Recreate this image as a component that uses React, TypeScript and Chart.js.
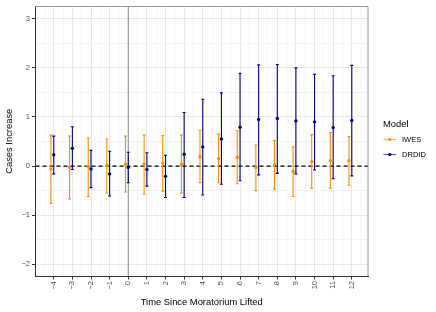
import React, { useEffect, useRef } from "react";
import { Chart, registerables } from "chart.js";

Chart.register(...registerables);

// ---- data ----
const times = [-4, -3, -2, -1, 0, 1, 2, 3, 4, 5, 6, 7, 8, 9, 10, 11, 12];

const iwesEst = [-0.06, -0.03, -0.01, 0.01, 0.04, 0.04, 0.06, 0.04, 0.19, 0.15, 0.18, -0.03, 0.02, -0.11, 0.09, 0.11, 0.11];
const iwesLow = [-0.76, -0.67, -0.62, -0.55, -0.53, -0.57, -0.51, -0.55, -0.34, -0.34, -0.36, -0.5, -0.47, -0.62, -0.45, -0.45, -0.39];
const iwesHigh = [0.63, 0.61, 0.57, 0.55, 0.61, 0.63, 0.62, 0.63, 0.73, 0.65, 0.72, 0.43, 0.52, 0.39, 0.64, 0.68, 0.6];

const drdidEst = [0.23, 0.36, -0.06, -0.16, -0.03, -0.07, -0.21, 0.24, 0.39, 0.55, 0.79, 0.95, 0.97, 0.92, 0.9, 0.78, 0.93];
const drdidLow = [-0.16, -0.07, -0.44, -0.61, -0.34, -0.41, -0.64, -0.64, -0.59, -0.37, -0.3, -0.18, -0.15, -0.16, -0.08, -0.26, -0.2];
const drdidHigh = [0.61, 0.8, 0.32, 0.3, 0.28, 0.27, 0.22, 1.09, 1.36, 1.49, 1.89, 2.06, 2.07, 2.0, 1.87, 1.84, 2.05];

const seriesNames = ["IWES", "DRDID"];
const seriesColors = ["#FF8C00", "#00008B"];
const seriesOffsets = [-0.15, 0];

const xMinorStep = 0.5;
const xRange = [-4.98, 12.87];
const yRange = [-2.24, 3.25];
const yGridValues = [-2, -1.5, -1, -0.5, 0, 0.5, 1, 1.5, 2, 2.5, 3];

const xTitle = "Time Since Moratorium Lifted";
const yTitle = "Cases Increase";
const legendTitle = "Model";

const FONT = "'Liberation Sans', Arial, Helvetica, sans-serif";

const series = [
  { name: seriesNames[0], color: seriesColors[0], offset: seriesOffsets[0], est: iwesEst, low: iwesLow, high: iwesHigh },
  { name: seriesNames[1], color: seriesColors[1], offset: seriesOffsets[1], est: drdidEst, low: drdidLow, high: drdidHigh },
];

const xGridValues: number[] = [];
for (let v = times[0] - xMinorStep; v <= times[times.length - 1] + xMinorStep + 1e-9; v += xMinorStep) {
  xGridValues.push(Math.round(v * 10) / 10);
}

const isInt = (v: number) => Math.abs(v - Math.round(v)) < 1e-9;
const fmt = (v: number) => (v < 0 ? "\u2212" + Math.abs(v) : String(v));

const overlayPlugin = {
  id: "overlay",
  beforeDatasetsDraw(chart: any) {
    const { ctx, chartArea: a, scales } = chart;
    const x = scales.x;
    const y = scales.y;
    ctx.save();
    // vertical reference line at 0
    const x0 = x.getPixelForValue(0);
    ctx.strokeStyle = "#8a8a8a";
    ctx.lineWidth = 1;
    ctx.beginPath();
    ctx.moveTo(x0, a.top);
    ctx.lineTo(x0, a.bottom);
    ctx.stroke();
    // horizontal dashed line at 0
    const y0 = y.getPixelForValue(0);
    ctx.strokeStyle = "#000000";
    ctx.lineWidth = 1.2;
    ctx.setLineDash([4, 3]);
    ctx.beginPath();
    ctx.moveTo(a.left, y0);
    ctx.lineTo(a.right, y0);
    ctx.stroke();
    ctx.setLineDash([]);
    // error bars
    series.forEach((s) => {
      ctx.strokeStyle = s.color;
      ctx.lineWidth = 1.1;
      times.forEach((t, i) => {
        const px = x.getPixelForValue(t + s.offset);
        const pLo = y.getPixelForValue(s.low[i]);
        const pHi = y.getPixelForValue(s.high[i]);
        ctx.beginPath();
        ctx.moveTo(px, pLo);
        ctx.lineTo(px, pHi);
        ctx.moveTo(px - 1.5, pLo);
        ctx.lineTo(px + 1.5, pLo);
        ctx.moveTo(px - 1.5, pHi);
        ctx.lineTo(px + 1.5, pHi);
        ctx.stroke();
      });
    });
    ctx.restore();
  },
  afterDraw(chart: any) {
    const { ctx, chartArea: a } = chart;
    ctx.save();
    // panel border (top/right) in gray
    ctx.strokeStyle = "#9a9a9a";
    ctx.lineWidth = 1;
    ctx.beginPath();
    ctx.moveTo(a.left, a.top);
    ctx.lineTo(a.right, a.top);
    ctx.lineTo(a.right, a.bottom);
    ctx.stroke();
    // legend
    const lx = a.right + 15;
    ctx.fillStyle = "#000000";
    ctx.textBaseline = "middle";
    ctx.textAlign = "left";
    ctx.font = `9.4px ${FONT}`;
    ctx.fillText(legendTitle, lx, 124);
    series.forEach((s, i) => {
      const cy = 139.5 + i * 15;
      ctx.globalAlpha = 0.65;
      ctx.strokeStyle = s.color;
      ctx.lineWidth = 1.2;
      ctx.beginPath();
      ctx.moveTo(lx + 0.5, cy);
      ctx.lineTo(lx + 13, cy);
      ctx.stroke();
      ctx.globalAlpha = 1;
      ctx.fillStyle = s.color;
      ctx.beginPath();
      ctx.arc(lx + 6.8, cy, 1.6, 0, Math.PI * 2);
      ctx.fill();
      ctx.fillStyle = "#000000";
      ctx.font = `7.6px ${FONT}`;
      ctx.fillText(s.name, lx + 19, cy);
    });
    ctx.restore();
  },
};

export default function App() {
  const canvasRef = useRef<HTMLCanvasElement | null>(null);

  useEffect(() => {
    if (!canvasRef.current) return;
    const chart = new Chart(canvasRef.current, {
      type: "scatter",
      data: {
        datasets: series.map((s) => ({
          label: s.name,
          data: times.map((t, i) => ({ x: t + s.offset, y: s.est[i] })),
          backgroundColor: s.color,
          borderColor: s.color,
          pointRadius: 1.7,
          pointBorderWidth: 0,
          showLine: false,
        })),
      },
      options: {
        animation: false,
        responsive: true,
        maintainAspectRatio: false,
        layout: { padding: { left: 0, top: 5, right: 68, bottom: 0 } },
        plugins: {
          legend: { display: false },
          tooltip: { enabled: false },
        },
        scales: {
          x: {
            type: "linear",
            min: xRange[0],
            max: xRange[1],
            afterBuildTicks: (scale: any) => {
              scale.ticks = xGridValues.map((v) => ({ value: v }));
            },
            afterFit: (scale: any) => {
              scale.height = 36;
            },
            grid: {
              color: (c: any) => (isInt(c.tick?.value ?? 0) ? "#e8e8e8" : "#f4f4f4"),
              lineWidth: 1,
              tickLength: 3.5,
              tickColor: (c: any) => (isInt(c.tick?.value ?? 0) ? "#333333" : "rgba(0,0,0,0)"),
              tickWidth: 1,
            },
            border: { display: true, color: "#333333", width: 1 },
            ticks: {
              autoSkip: false,
              minRotation: 90,
              maxRotation: 90,
              padding: 1.5,
              color: "#4D4D4D",
              font: { family: FONT, size: 7.5 },
              callback: (v: any) => (isInt(Number(v)) ? fmt(Number(v)) : ""),
            },
            title: {
              display: true,
              text: xTitle,
              color: "#000000",
              font: { family: FONT, size: 9.4 },
              padding: { top: 0, bottom: 3.5 },
            },
          },
          y: {
            type: "linear",
            min: yRange[0],
            max: yRange[1],
            afterBuildTicks: (scale: any) => {
              scale.ticks = yGridValues.map((v) => ({ value: v }));
            },
            afterFit: (scale: any) => {
              scale.width = 35.5;
            },
            grid: {
              color: (c: any) => (isInt(c.tick?.value ?? 0) ? "#e8e8e8" : "#f4f4f4"),
              lineWidth: 1,
              tickLength: 3.5,
              tickColor: (c: any) => (isInt(c.tick?.value ?? 0) ? "#333333" : "rgba(0,0,0,0)"),
              tickWidth: 1,
            },
            border: { display: true, color: "#333333", width: 1 },
            ticks: {
              padding: 2,
              color: "#4D4D4D",
              font: { family: FONT, size: 7.5 },
              callback: (v: any) => (isInt(Number(v)) ? fmt(Number(v)) : ""),
            },
            title: {
              display: true,
              text: yTitle,
              color: "#000000",
              font: { family: FONT, size: 9.4 },
              padding: { top: 4, bottom: 0 },
            },
          },
        },
      },
      plugins: [overlayPlugin],
    });
    return () => chart.destroy();
  }, []);

  return (
    <div style={{ position: "fixed", left: 0, top: 0, width: 436, height: 312, background: "#ffffff" }}>
      <canvas ref={canvasRef} />
    </div>
  );
}
